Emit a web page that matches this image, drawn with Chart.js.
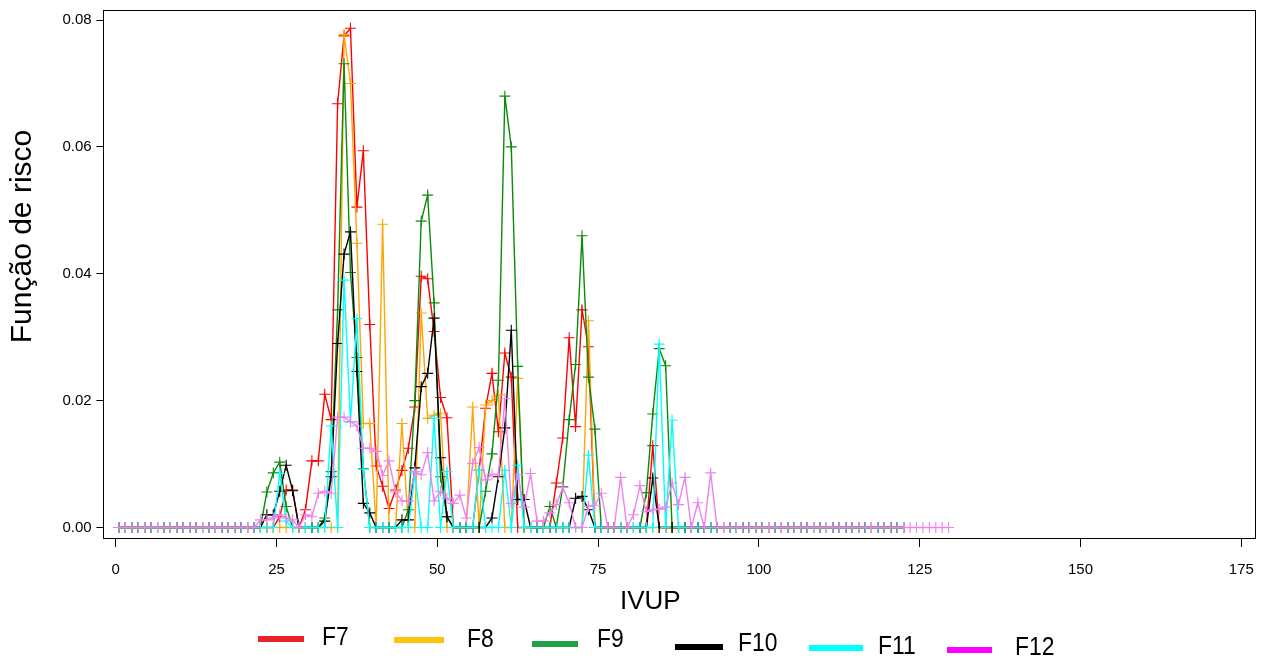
<!DOCTYPE html>
<html>
<head>
<meta charset="utf-8">
<script src="https://cdn.jsdelivr.net/npm/chart.js@4.4.1/dist/chart.umd.min.js"></script>
<style>
  body { margin: 0; background: #fff; }
  #wrap { position: relative; width: 1274px; height: 664px; font-family: "Liberation Sans", Arial, sans-serif; }
  .leg-line { position: absolute; height: 6px; }
  .leg-txt { position: absolute; font-size: 26px; line-height: 26px; color: #000; transform: scaleX(0.88); transform-origin: left center; }
</style>
</head>
<body>
<div id="wrap">
  <canvas id="chart" width="1274" height="664"></canvas>
  <div id="legend"></div>
</div>
<script>
const ivup = [
  0.5, 1.5, 2.5, 3.5, 4.5, 5.5, 6.5, 7.5, 8.5, 9.5,
  10.5, 11.5, 12.5, 13.5, 14.5, 15.5, 16.5, 17.5, 18.5, 19.5,
  20.5, 21.5, 22.5, 23.5, 24.5, 25.5, 26.5, 27.5, 28.5, 29.5,
  30.5, 31.5, 32.5, 33.5, 34.5, 35.5, 36.5, 37.5, 38.5, 39.5,
  40.5, 41.5, 42.5, 43.5, 44.5, 45.5, 46.5, 47.5, 48.5, 49.5,
  50.5, 51.5, 52.5, 53.5, 54.5, 55.5, 56.5, 57.5, 58.5, 59.5,
  60.5, 61.5, 62.5, 63.5, 64.5, 65.5, 66.5, 67.5, 68.5, 69.5,
  70.5, 71.5, 72.5, 73.5, 74.5, 75.5, 76.5, 77.5, 78.5, 79.5,
  80.5, 81.5, 82.5, 83.5, 84.5, 85.5, 86.5, 87.5, 88.5, 89.5,
  90.5, 91.5, 92.5, 93.5, 94.5, 95.5, 96.5, 97.5, 98.5, 99.5,
  100.5, 101.5, 102.5, 103.5, 104.5, 105.5, 106.5, 107.5, 108.5, 109.5,
  110.5, 111.5, 112.5, 113.5, 114.5, 115.5, 116.5, 117.5, 118.5, 119.5,
  120.5, 121.5, 122.5, 123.5, 124.5, 125.5, 126.5, 127.5, 128.5, 129.5
];

const f7 = [
  0, 0, 0, 0, 0, 0, 0, 0, 0, 0,
  0, 0, 0, 0, 0, 0, 0, 0, 0, 0,
  0, 0, 0, 0, 0, 0.0017, 0.0059, 0.0059, 0, 0.0028,
  0.0105, 0.0105, 0.021, 0.017, 0.0668, 0.0775, 0.0787, 0.0505, 0.0594, 0.032,
  0.0097, 0.0065, 0.003, 0.0059, 0.009, 0.0125, 0.019, 0.0396, 0.0392, 0.0309,
  0.0205, 0.0173, 0, 0, 0, 0, 0.009, 0.0188, 0.0243, 0.0151,
  0.0275, 0.0237, 0, 0, 0, 0, 0, 0, 0.007, 0.0141,
  0.0299, 0.0159, 0.0343, 0.0285, 0, 0, 0, 0, 0, 0,
  0, 0, 0, 0.0129, 0, 0, 0, 0, 0, 0,
  0, 0, 0, 0, 0, 0, 0, 0, 0, 0,
  0, 0, 0, 0, 0, 0, 0, 0, 0, 0,
  0, 0, 0, 0, 0, 0, 0, 0, 0, 0,
  0, 0, 0
];

const f8 = [
  0, 0, 0, 0, 0, 0, 0, 0, 0, 0,
  0, 0, 0, 0, 0, 0, 0, 0, 0, 0,
  0, 0, 0, 0, 0, 0, 0, 0, 0, 0,
  0, 0, 0, 0, 0, 0.0777, 0.070, 0.0448, 0.0164, 0.0164,
  0, 0.0478, 0, 0, 0.0164, 0, 0, 0.0338, 0.0172, 0.0177,
  0.018, 0, 0, 0, 0, 0.019, 0, 0.0193, 0.020, 0.0209,
  0, 0, 0.0235, 0, 0, 0, 0, 0, 0, 0,
  0, 0, 0, 0.0326, 0, 0, 0, 0, 0, 0,
  0, 0, 0, 0, 0, 0, 0, 0, 0, 0,
  0, 0, 0, 0, 0, 0, 0, 0, 0, 0,
  0, 0, 0, 0, 0, 0, 0, 0, 0, 0,
  0, 0, 0, 0, 0, 0, 0, 0, 0, 0,
  0, 0, 0
];

const f9 = [
  0, 0, 0, 0, 0, 0, 0, 0, 0, 0,
  0, 0, 0, 0, 0, 0, 0, 0, 0, 0,
  0, 0, 0, 0.0056, 0.0086, 0.0103, 0.0033, 0, 0, 0,
  0, 0, 0.0015, 0.0088, 0.0343, 0.0731, 0.0402, 0.0268, 0.0093, 0,
  0, 0, 0, 0, 0, 0.0028, 0.020, 0.0483, 0.0524, 0.0354,
  0.008, 0.0017, 0, 0, 0, 0, 0, 0.0057, 0.0116, 0.0232,
  0.068, 0.060, 0.0254, 0, 0, 0, 0, 0.0033, 0, 0.0064,
  0.017, 0.0257, 0.046, 0.0237, 0.0155, 0, 0, 0, 0, 0,
  0, 0, 0.0055, 0.0179, 0.0282, 0.0255, 0, 0, 0, 0,
  0, 0, 0, 0, 0, 0, 0, 0, 0, 0,
  0, 0, 0, 0, 0, 0, 0, 0, 0, 0,
  0, 0, 0, 0, 0, 0, 0, 0, 0, 0,
  0, 0, 0
];

const f10 = [
  0, 0, 0, 0, 0, 0, 0, 0, 0, 0,
  0, 0, 0, 0, 0, 0, 0, 0, 0, 0,
  0, 0, 0, 0.002, 0.002, 0.0057, 0.0098, 0.0058, 0, 0,
  0, 0, 0.001, 0.008, 0.029, 0.0431, 0.0466, 0.0246, 0.0038, 0.0023,
  0, 0, 0, 0, 0.0012, 0.0012, 0.0094, 0.0222, 0.0243, 0.033,
  0.011, 0.0017, 0, 0, 0, 0, 0, 0, 0.0015, 0.008,
  0.0157, 0.0311, 0.0044, 0.0044, 0, 0, 0, 0, 0, 0,
  0, 0.0046, 0.0049, 0.0028, 0, 0, 0, 0, 0, 0,
  0, 0, 0, 0.0078, 0, 0, 0, 0, 0, 0,
  0, 0, 0, 0, 0, 0, 0, 0, 0, 0,
  0, 0, 0, 0, 0, 0, 0, 0, 0, 0,
  0, 0, 0, 0, 0, 0, 0, 0, 0, 0,
  0, 0, 0
];

const f11 = [
  0, 0, 0, 0, 0, 0, 0, 0, 0, 0,
  0, 0, 0, 0, 0, 0, 0, 0, 0, 0,
  0, 0, 0, 0, 0, 0.0085, 0.001, 0, 0, 0,
  0, 0, 0, 0.016, 0, 0.039, 0.0166, 0.0329, 0.0092, 0,
  0, 0, 0, 0, 0, 0, 0.0085, 0, 0, 0.0172,
  0, 0.0088, 0, 0, 0, 0, 0.009, 0, 0, 0,
  0.009, 0, 0.0098, 0, 0, 0, 0, 0, 0, 0,
  0, 0, 0, 0.0114, 0, 0, 0, 0, 0, 0,
  0, 0, 0, 0, 0.0289, 0, 0.0169, 0, 0, 0,
  0, 0, 0, 0, 0, 0, 0, 0, 0, 0,
  0, 0, 0, 0, 0, 0, 0, 0, 0, 0,
  0, 0, 0, 0, 0, 0, 0, 0, 0, 0,
  0, 0, 0
];

const f12 = [
  0, 0, 0, 0, 0, 0, 0, 0, 0, 0,
  0, 0, 0, 0, 0, 0, 0, 0, 0, 0,
  0, 0, 0.0012, 0.0012, 0.0015, 0.002, 0.0015, 0.0012, 0, 0.002,
  0.0017, 0.0054, 0.0057, 0.0054, 0.0174, 0.0174, 0.0167, 0.016, 0.0125, 0.0125,
  0.012, 0.0082, 0.0105, 0.0056, 0.0042, 0.0042, 0.0088, 0.0083, 0.0118, 0.0042,
  0.0057, 0.0046, 0.0038, 0.0051, 0.0015, 0.0101, 0.0126, 0.0075, 0.0084, 0.0083,
  0.0203, 0.0038, 0.0083, 0.0032, 0.0085, 0.001, 0.001, 0.0023, 0.0036, 0.0063,
  0.0039, 0, 0, 0.0033, 0.0035, 0.0054, 0, 0, 0.0079, 0,
  0.002, 0.0066, 0.0025, 0.0028, 0.0029, 0.0032, 0.007, 0.0036, 0.0079, 0,
  0.0039, 0, 0.0086, 0, 0, 0, 0, 0, 0, 0,
  0, 0, 0, 0, 0, 0, 0, 0, 0, 0,
  0, 0, 0, 0, 0, 0, 0, 0, 0, 0,
  0, 0, 0, 0, 0, 0, 0, 0, 0, 0
];

const names = ["F7", "F8", "F9", "F10", "F11", "F12"];
const series = [f7, f8, f9, f10, f11, f12];
const lineColors = ["#ff0000", "#ffa500", "#0a8a0a", "#000000", "#00ffff", "#ee82ee"];
const legendColors = ["#e8242b", "#ffc20e", "#22a045", "#000000", "#00ffff", "#ff00ff"];
const xTicks = [0, 25, 50, 75, 100, 125, 150, 175];
const yTicks = [0, 0.02, 0.04, 0.06, 0.08];

const FONT = "'Liberation Sans', Arial, sans-serif";
const NB = "\u00a0";

const datasets = series.map((vals, i) => ({
  label: names[i],
  data: vals.map((v, k) => ({ x: ivup[k], y: v })),
  borderColor: lineColors[i],
  backgroundColor: lineColors[i],
  borderWidth: 1.4,
  pointStyle: "cross",
  pointRadius: 5.5,
  pointBorderWidth: 1.1,
  tension: 0,
  order: series.length - i
}));

// moldura do painel
const boxPlugin = {
  id: "box",
  afterDatasetsDraw(chart) {
    const a = chart.chartArea, ctx = chart.ctx;
    ctx.save();
    ctx.strokeStyle = "#000";
    ctx.lineWidth = 1;
    ctx.strokeRect(Math.round(a.left) + 0.5, Math.round(a.top) + 0.5,
      Math.round(a.right - a.left), Math.round(a.bottom - a.top));
    ctx.restore();
  }
};

new Chart(document.getElementById("chart"), {
  type: "line",
  data: { datasets },
  plugins: [boxPlugin],
  options: {
    responsive: false,
    animation: false,
    layout: { padding: { left: 4.5, top: 10, right: 19, bottom: 46.4 } },
    plugins: { legend: { display: false }, tooltip: { enabled: false } },
    scales: {
      x: {
        type: "linear",
        min: -1.93,
        max: 177.13,
        afterFit: s => { s.height = 79.6; s.paddingLeft = 0; s.paddingRight = 0; },
        afterBuildTicks: s => { s.ticks = xTicks.map(v => ({ value: v })); },
        ticks: { font: { family: FONT, size: 15 }, color: "#000", padding: 14, maxRotation: 0 },
        grid: { drawOnChartArea: false, drawTicks: true, tickLength: 9, color: "#000" },
        border: { display: false },
        title: { display: true, text: "IVUP" + NB.repeat(8), font: { family: FONT, size: 26 }, color: "#000", padding: 0 }
      },
      y: {
        min: -0.00166,
        max: 0.08158,
        afterFit: s => { s.width = 98.8; s.paddingTop = 0; s.paddingBottom = 0; },
        afterBuildTicks: s => { s.ticks = yTicks.map(v => ({ value: v })); },
        ticks: { font: { family: FONT, size: 15 }, color: "#000", padding: 4.6, callback: v => v.toFixed(2) },
        grid: { drawOnChartArea: false, drawTicks: true, tickLength: 7, color: "#000" },
        border: { display: false },
        title: { display: true, text: NB.repeat(9) + "Função de risco", font: { family: FONT, size: 30 }, color: "#000", padding: 0 }
      }
    }
  }
});

// legenda (posições escalonadas como no original)
const legLines = [[258, 46, 636], [394, 50, 637], [532, 46, 641], [675, 48, 644], [809, 54, 645], [947, 45, 647]];
const legText = [[322, 623], [467, 625], [597, 625], [738, 629], [878, 632], [1015, 633]];
const leg = document.getElementById("legend");
names.forEach((n, i) => {
  const l = document.createElement("div");
  l.className = "leg-line";
  l.style.left = legLines[i][0] + "px";
  l.style.width = legLines[i][1] + "px";
  l.style.top = legLines[i][2] + "px";
  l.style.background = legendColors[i];
  leg.appendChild(l);
  const t = document.createElement("div");
  t.className = "leg-txt";
  t.style.left = legText[i][0] + "px";
  t.style.top = legText[i][1] + "px";
  t.textContent = n;
  leg.appendChild(t);
});
</script>
</body>
</html>
